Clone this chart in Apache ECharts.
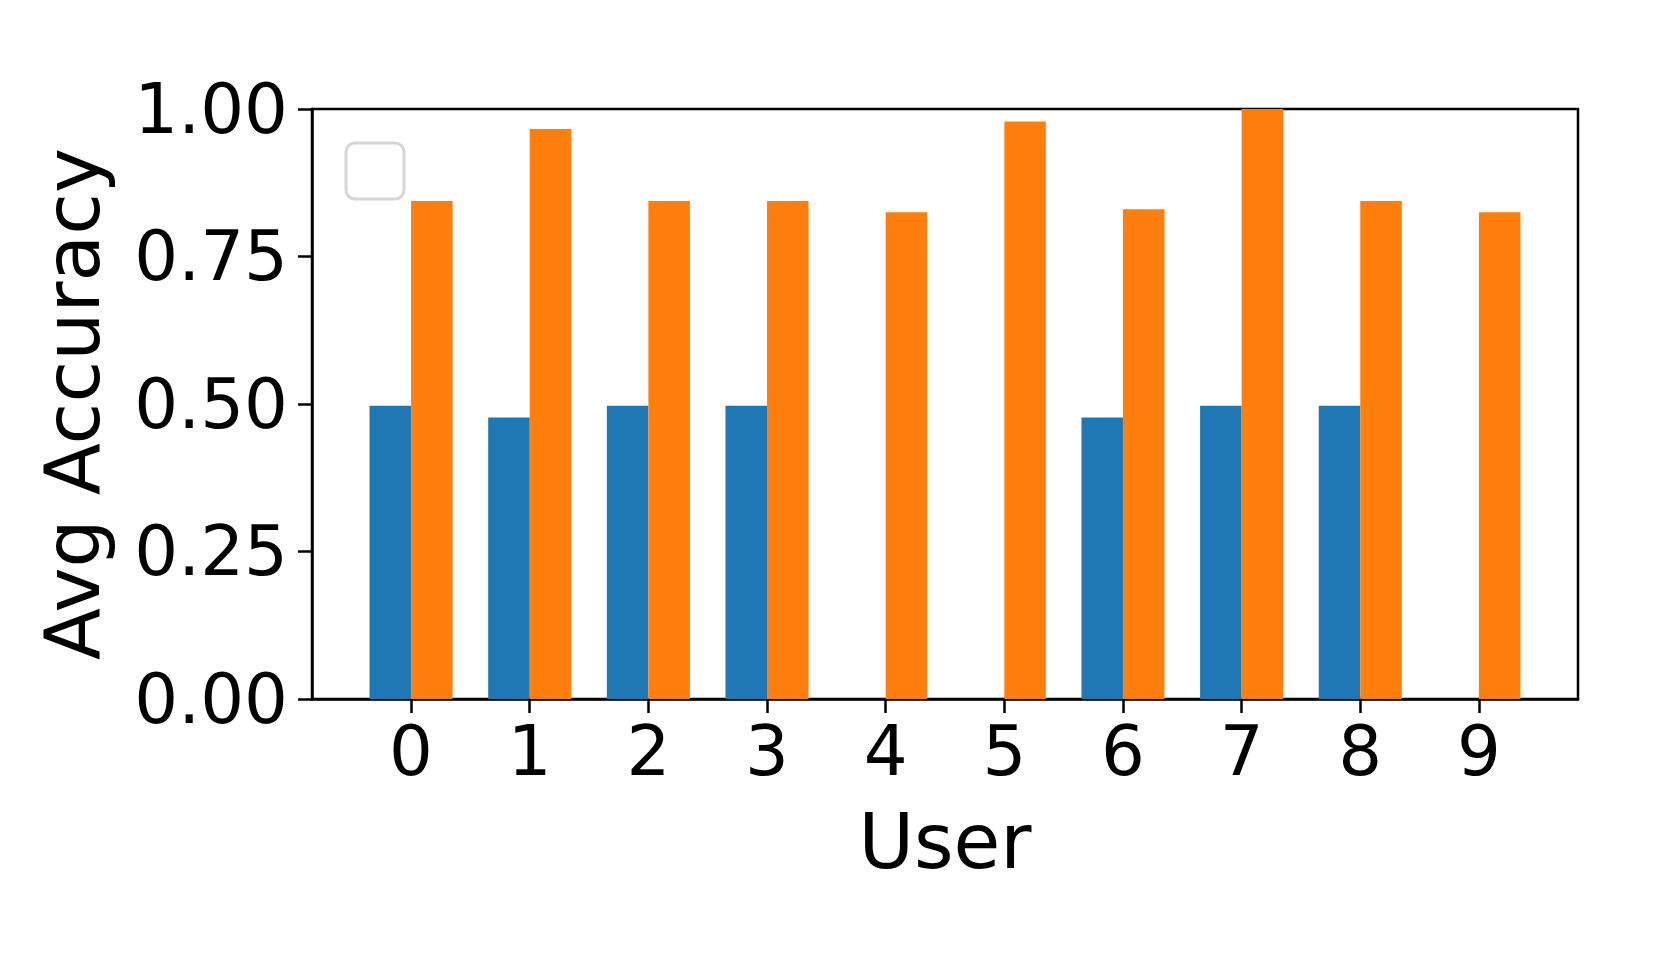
<!DOCTYPE html>
<html>
<head>
<meta charset="utf-8">
<script src="https://cdn.jsdelivr.net/npm/echarts@6/dist/echarts.min.js"></script>
<style>
  html, body { margin: 0; padding: 0; background: #fff; }
  #chart { width: 1661px; height: 969px; }
</style>
</head>
<body>
<div id="chart"></div>
<script>
// Data
const users = ['0', '1', '2', '3', '4', '5', '6', '7', '8', '9'];
const seriesA = [0.497, 0.477, 0.497, 0.497, 0, 0, 0.477, 0.497, 0.497, 0];
const seriesB = [0.844, 0.966, 0.844, 0.844, 0.825, 0.979, 0.830, 1.0, 0.844, 0.825];
const yTicks = [0, 0.25, 0.5, 0.75, 1.0];

const FONT = 'DejaVu Sans';
const userIdx = users.map((u, i) => i);

const chart = echarts.init(document.getElementById('chart'), null, { renderer: 'canvas' });
chart.setOption({
  backgroundColor: '#ffffff',
  animation: false,
  grid: {
    left: 312, right: 83, top: 109, bottom: 270,
    show: true, borderColor: '#000', borderWidth: 2.5, backgroundColor: 'transparent'
  },
  xAxis: {
    type: 'value',
    min: -0.835, max: 9.835,
    name: 'User',
    nameLocation: 'middle',
    nameGap: 111,
    nameTextStyle: { fontFamily: FONT, fontSize: 76, color: '#000' },
    axisLine: { show: true, onZero: false, lineStyle: { color: '#000', width: 2.5 } },
    axisTick: { show: true, inside: false, length: 14, lineStyle: { color: '#000', width: 2.5 }, customValues: userIdx },
    axisLabel: {
      show: true, margin: 24, fontFamily: FONT, fontSize: 69, color: '#000',
      customValues: userIdx,
      formatter: v => users[Math.round(v)]
    },
    splitLine: { show: false }
  },
  yAxis: {
    type: 'value',
    min: yTicks[0], max: yTicks[yTicks.length - 1], interval: 0.25,
    name: 'Avg Accuracy',
    nameLocation: 'middle',
    nameGap: 195,
    nameTextStyle: { fontFamily: FONT, fontSize: 76, color: '#000' },
    axisLine: { show: true, onZero: false, lineStyle: { color: '#000', width: 2.5 } },
    axisTick: { show: true, inside: false, length: 14, lineStyle: { color: '#000', width: 2.5 } },
    axisLabel: {
      margin: 24, fontFamily: FONT, fontSize: 69, color: '#000',
      formatter: v => '{t|' + v.toFixed(2) + '}',
      rich: {
        t: { fontFamily: FONT, fontSize: 69, color: '#000', padding: [12, 0, 0, 0] }
      }
    },
    splitLine: { show: false }
  },
  graphic: [{
    type: 'rect',
    shape: { x: 346, y: 143, width: 58, height: 56, r: 9 },
    style: { fill: 'rgba(255,255,255,0.8)', stroke: '#d6d6d6', lineWidth: 3 },
    z: 100
  }],
  series: [
    {
      type: 'bar',
      data: seriesA.map((v, i) => [i, v]),
      barWidth: '35%',
      barGap: '0%',
      itemStyle: { color: '#1f77b4' }
    },
    {
      type: 'bar',
      data: seriesB.map((v, i) => [i, v]),
      barWidth: '35%',
      barGap: '0%',
      itemStyle: { color: '#ff7f0e' }
    }
  ]
});
</script>
</body>
</html>
